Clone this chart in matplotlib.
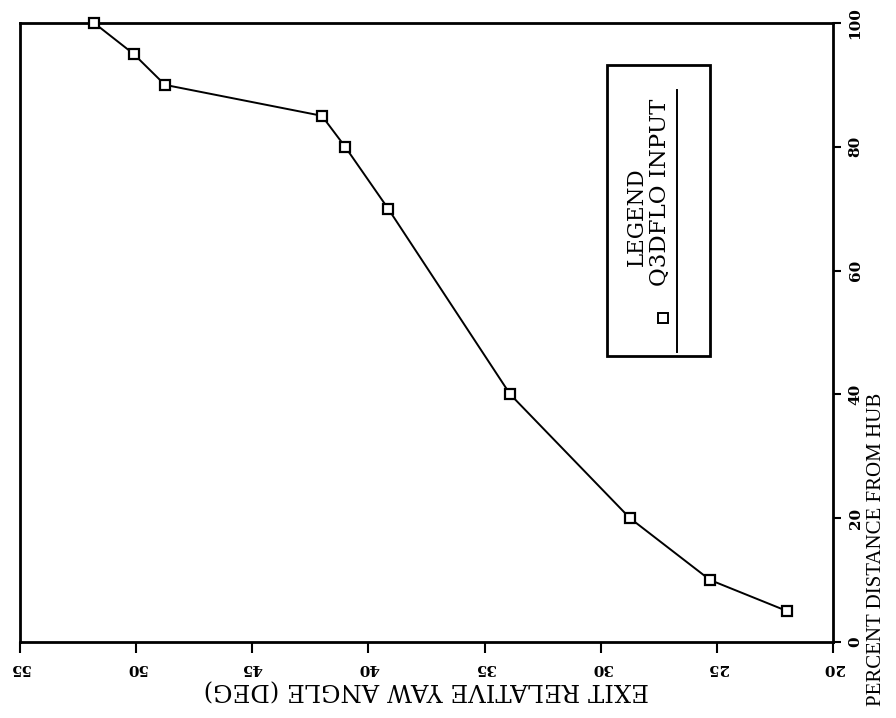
import matplotlib
matplotlib.use("Agg")
import matplotlib.pyplot as plt
from matplotlib.patches import Rectangle
from matplotlib.lines import Line2D

plt.rcParams["font.family"] = ["Liberation Serif", "DejaVu Serif"]

# exit relative yaw angle (deg) vs percent distance from hub
yaw_angle = [51.8, 50.1, 48.75, 42.0, 41.0, 39.15, 33.9, 28.75, 25.3, 22.0]
pct_from_hub = [100, 95, 90, 85, 80, 70, 40, 20, 10, 5]

yaw_ticks = [55, 50, 45, 40, 35, 30, 25, 20]
pct_ticks = [0, 20, 40, 60, 80, 100]

fig = plt.figure(figsize=(8.96, 7.18), dpi=100)
ax = fig.add_axes([0.022, 0.106, 0.908, 0.862])

ax.plot(yaw_angle, pct_from_hub, color="black", lw=1.4, marker="s", ms=7.5,
        mfc="white", mec="black", mew=1.6, clip_on=False, zorder=3)

ax.set_xlim(55, 20)
ax.set_ylim(0, 100)

# page is turned: percent axis on the right, yaw labels upside down
tick_font = dict(family="DejaVu Serif", size=11, weight="bold")
ax.yaxis.tick_right()
ax.set_xticks(yaw_ticks)
ax.set_xticklabels([str(t) for t in yaw_ticks], rotation=180, **tick_font)
ax.set_yticks(pct_ticks)
ax.set_yticklabels([str(t) for t in pct_ticks], rotation=90, va="center",
                   **tick_font)
ax.tick_params(axis="x", direction="out", length=8, width=1.5, pad=6)
ax.tick_params(axis="y", direction="out", length=6, width=1.5, pad=5)

ax.set_xlabel("EXIT RELATIVE YAW ANGLE (DEG)", rotation=180,
              family="DejaVu Serif", fontsize=17.5, labelpad=2)
ax.set_ylabel("PERCENT DISTANCE FROM HUB", rotation=90, fontsize=15)
ax.yaxis.set_label_position("right")
ax.yaxis.set_label_coords(1.053, 0.149)
ax.yaxis.label.set_va("center")

for s in ax.spines.values():
    s.set_linewidth(2.0)

# legend box, drawn turned like the rest of the page
ax.add_patch(Rectangle((0.722, 0.462), 0.127, 0.470, transform=ax.transAxes,
                       fill=False, lw=2.0, ec="black", zorder=4))
ax.text(0.758, 0.687, "LEGEND", transform=ax.transAxes, rotation=90,
        ha="center", va="center", family="DejaVu Serif", fontsize=15.5)
ax.text(0.787, 0.727, "Q3DFLO INPUT", transform=ax.transAxes, rotation=90,
        ha="center", va="center", family="DejaVu Serif", fontsize=16.5)
ax.add_line(Line2D([0.808, 0.808], [0.468, 0.892], transform=ax.transAxes,
                   color="black", lw=1.4))
ax.plot([0.791], [0.523], transform=ax.transAxes, marker="s", ms=7,
        mfc="white", mec="black", mew=1.4)

fig.savefig("out.png", dpi=100)
